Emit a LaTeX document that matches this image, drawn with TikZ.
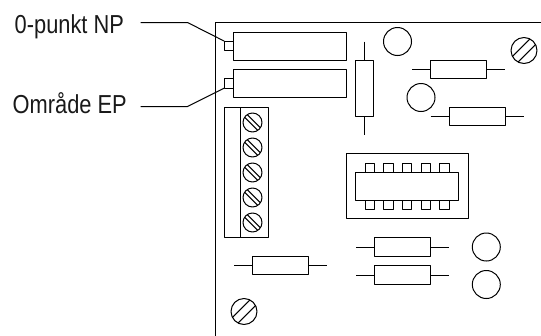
\documentclass[tikz,border=0pt]{standalone}
\usepackage{fontspec}
\setmainfont{Liberation Sans}
\newfontfamily\labfont[FakeStretch=0.84]{Liberation Sans}
\tikzset{
  x=1pt,y=-1pt,
  part/.style={draw=black,line width=1pt,line join=round},
  body/.style={part,fill=white},
  lbl/.style={font=\labfont\fontsize{26}{26}\selectfont,text=black!90,inner sep=0pt,anchor=base west},
  hres/.pic={
    \draw[part] (-46.5,0) -- (46.5,0);
    \draw[body] (-28,-9.3) rectangle (28,9.3);
  },
  vres/.pic={
    \draw[part] (0,-46.5) -- (0,46.5);
    \draw[body] (-9.3,-28) rectangle (9.3,28);
  },
  screwa/.pic={
    \draw[part] (0,0) circle (9.5);
    \draw[part] (-7.9,-5.3) -- (5.3,7.9) (-5.3,-7.9) -- (7.9,5.3);
  },
  screwb/.pic={
    \draw[part] (0,0) circle (13);
    \draw[part] (-11.6,6) -- (6,-11.6) (-6,11.6) -- (11.6,-6);
  },
  knob/.style={part,minimum width=9.3pt,minimum height=9.3pt,inner sep=0pt,outer sep=0pt},
  pin/.style={part,minimum width=9.4pt,minimum height=9.4pt,inner sep=0pt,outer sep=0pt}
}
\begin{document}
\begin{tikzpicture}
\useasboundingbox (0,0) rectangle (541,335);
\fill[white] (0,0) rectangle (541,335);
\node[lbl] (l1) at (14.5,33) {0-punkt NP};
\node[lbl] (l2) at (12.5,113.5) {Område EP};
\begin{scope}[shift={(0.5,0.5)}]
% board
\draw[part] (215,335) -- (215,22) -- (541,22);
% trim pots
\draw[part] (233,31.5) rectangle (345.7,59.5);
\draw[part] (233,69) rectangle (345.7,97);
\node[knob] (k1) at (228.3,45.2) {};
\node[knob] (k2) at (228.3,83) {};
% leaders
\coordinate (b1) at (187,22);
\coordinate (b2) at (187,106);
\coordinate (s1) at (140,22);
\coordinate (s2) at (140,106);
\draw[part] (s1) -- (b1) -- (k1.north west);
\draw[part] (s2) -- (b2) -- (k2.south west);
% terminal block
\draw[part] (224,106.5) rectangle (268,237.3);
\draw[part] (239.6,106.5) -- (239.6,237.3);
\foreach \yy in {122,147,172,197,222} \pic at (252,\yy) {screwa};
% resistors
\pic at (364,87.5) {vres};
\pic at (458,69) {hres};
\pic at (476.5,116) {hres};
\pic at (402,246.7) {hres};
\pic at (402,274.6) {hres};
\pic at (280,265) {hres};
% capacitors
\draw[part] (397,41) circle (14);
\draw[part] (420.5,97) circle (14);
\draw[part] (485.8,246.5) circle (14);
\draw[part] (485.8,284) circle (14);
% corner screws
\pic at (523.5,50) {screwb};
\pic at (243.5,311) {screwb};
% DIP switch
\draw[part] (345.5,153) rectangle (467.5,218);
\draw[part] (355,172) rectangle (458,200);
\foreach \xx [count=\i] in {369.2,387.8,406.4,425.2,443.8} {
  \node[pin] (pt\i) at (\xx,167.3) {};
  \node[pin] (pb\i) at (\xx,204.7) {};
}
\end{scope}
\end{tikzpicture}
\end{document}
